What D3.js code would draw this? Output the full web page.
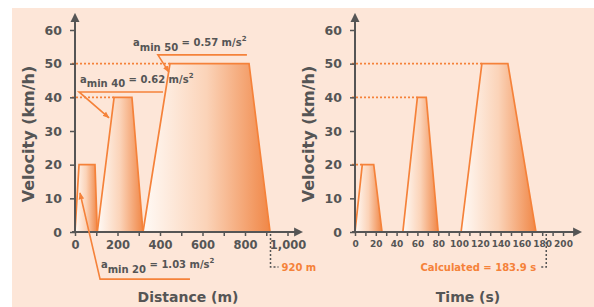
<!DOCTYPE html>
<html>
<head>
<meta charset="utf-8">
<script src="https://cdn.jsdelivr.net/npm/d3@7"></script>
<style>
  body { margin: 0; background: #fff; }
  svg { display: block; font-family: "DejaVu Sans", Verdana, sans-serif; font-weight: bold; }
</style>
</head>
<body>
<svg id="chart" width="594" height="307"></svg>
<script>
// Velocity profile against distance (m, km/h)
const distProfile = [
  [[0, 0], [19, 20], [94, 20], [105, 0]],
  [[105, 0], [184, 40], [268, 40], [320, 0]],
  [[320, 0], [447, 50], [819, 50], [918, 0]]
];
// Velocity profile against time (s, km/h)
const timeProfile = [
  [[0, 0], [7, 20], [18, 20], [26, 0]],
  [[46, 0], [60, 40], [68.5, 40], [80, 0]],
  [[102, 0], [122, 50], [147, 50], [174, 0]]
];
const yTicks = [0, 10, 20, 30, 40, 50, 60];
const distTicks = [0, 200, 400, 600, 800, 1000];
const distMinor = [100, 300, 500, 700, 900];
const timeTicks = [0, 20, 40, 60, 80, 100, 120, 140, 160, 180, 200];
const timeMinor = [10, 30, 50, 70, 90, 110, 130, 150, 170, 190];
const distGuides = [[40, 184], [50, 447]];
const timeGuides = [[20, 7], [40, 60], [50, 122]];
// annotations: label, value, text anchor, underline y, underline x range, arrow tip (data units)
const accelNotes = [
  { speed: '50', acc: '0.57', tx: 273, ty: 55.2, ly: 52.6, lx: [390, 809], tip: [442, 47.5] },
  { speed: '40', acc: '0.62', tx: 23.5, ty: 44.3, ly: 41.6, lx: [19, 414], tip: [160, 33.9] },
  { speed: '20', acc: '1.03', tx: 122, ty: -10.7, ly: -14, lx: [118, 541], tip: [23.5, 11.6] }
];
const totalDist = 920;
const totalTime = 183.9;

const ORANGE = '#f5823a';
const GREY = '#555555';

const svg = d3.select('#chart');
const defs = svg.append('defs');

const grad = defs.append('linearGradient').attr('id', 'fade')
  .attr('x1', 0).attr('x2', 1).attr('y1', 0).attr('y2', 0);
grad.append('stop').attr('offset', 0).attr('stop-color', '#fffaf6');
grad.append('stop').attr('offset', 0.5).attr('stop-color', '#fbd3b8');
grad.append('stop').attr('offset', 1).attr('stop-color', '#f08747');

defs.append('marker').attr('id', 'axhead').attr('viewBox', '0 0 10 10')
  .attr('refX', 1).attr('refY', 5).attr('markerWidth', 9).attr('markerHeight', 9.5)
  .attr('markerUnits', 'userSpaceOnUse').attr('orient', 'auto')
  .append('path').attr('d', 'M0,0L10,5L0,10Z').attr('fill', GREY);

defs.append('marker').attr('id', 'tip').attr('viewBox', '0 0 10 10')
  .attr('refX', 9).attr('refY', 5).attr('markerWidth', 7).attr('markerHeight', 7)
  .attr('markerUnits', 'userSpaceOnUse').attr('orient', 'auto')
  .append('path').attr('d', 'M0,1L10,5L0,9Z').attr('fill', ORANGE);

// background panel
svg.append('rect').attr('x', 12).attr('y', 8).attr('width', 582).attr('height', 299)
  .attr('fill', '#fde6d8');

const y = d3.scaleLinear().domain([0, 60]).range([232, 30]);

function drawPanel(opts) {
  const x = opts.x;
  const g = svg.append('g');
  const x0 = x(0);

  // guides
  opts.guides.forEach(([v, end]) => {
    g.append('line')
      .attr('x1', x0 - 3).attr('x2', x(end)).attr('y1', y(v)).attr('y2', y(v))
      .attr('stroke', ORANGE).attr('stroke-width', 1.8).attr('stroke-dasharray', '2,2');
  });

  // trapezoids
  const line = d3.line().x((d) => x(d[0])).y((d) => y(d[1]));
  opts.profile.forEach((p) => {
    g.append('path').attr('d', line(p) + 'Z')
      .attr('fill', 'url(#fade)').attr('stroke', 'none');
    g.append('path').attr('d', line(p))
      .attr('fill', 'none').attr('stroke', ORANGE).attr('stroke-width', 1.7)
      .attr('stroke-linejoin', 'miter');
  });

  // axes
  const yAxis = g.append('g').attr('transform', `translate(${x0},0)`)
    .call(d3.axisLeft(y).tickValues(yTicks).tickSize(5).tickPadding(8));
  yAxis.select('.domain').remove();
  yAxis.selectAll('line').attr('stroke', GREY).attr('stroke-width', 1.5);
  yAxis.selectAll('text').attr('fill', GREY).attr('font-size', 12.5)
    .attr('font-family', 'DejaVu Sans').attr('font-weight', 'bold');

  const xAxis = g.append('g').attr('transform', `translate(0,${y(0)})`)
    .call(d3.axisBottom(x).tickValues(opts.ticks).tickSize(4).tickPadding(5)
      .tickFormat(opts.format));
  xAxis.select('.domain').remove();
  xAxis.selectAll('line').attr('stroke', GREY).attr('stroke-width', 1.5);
  xAxis.selectAll('text').attr('fill', GREY).attr('font-size', opts.tickFont)
    .attr('font-family', 'DejaVu Sans').attr('font-weight', 'bold');

  const xMinor = g.append('g').attr('transform', `translate(0,${y(0)})`)
    .call(d3.axisBottom(x).tickValues(opts.minor).tickSize(4).tickFormat(''));
  xMinor.select('.domain').remove();
  xMinor.selectAll('line').attr('stroke', GREY).attr('stroke-width', 1.5);

  g.append('line').attr('x1', x0).attr('x2', x0).attr('y1', y(0) + 1).attr('y2', 21)
    .attr('stroke', GREY).attr('stroke-width', 2).attr('marker-end', 'url(#axhead)');
  g.append('line').attr('x1', x0 - 3).attr('x2', opts.axisEnd).attr('y1', y(0)).attr('y2', y(0))
    .attr('stroke', GREY).attr('stroke-width', 2).attr('marker-end', 'url(#axhead)');

  // axis titles
  g.append('text').attr('x', opts.titleX).attr('y', 302).attr('text-anchor', 'middle')
    .attr('font-size', 14).attr('fill', GREY).text(opts.title);
  g.append('text').attr('transform', `translate(${x0 - 41},134) rotate(-90)`)
    .attr('text-anchor', 'middle').attr('font-size', 16).attr('fill', GREY)
    .text('Velocity (km/h)');

  // total marker
  const mx = x(opts.total);
  g.append('path')
    .attr('d', `M${mx},${y(0) + 2}V267H${mx + opts.hook}`)
    .attr('fill', 'none').attr('stroke', GREY).attr('stroke-width', 1.5)
    .attr('stroke-dasharray', '2,2');
  g.append('text').attr('x', mx + opts.hook + (opts.hook > 0 ? 3 : -4)).attr('y', 271)
    .attr('text-anchor', opts.hook > 0 ? 'start' : 'end')
    .attr('font-size', 10).attr('fill', ORANGE).text(opts.totalLabel);

  return g;
}

const xd = d3.scaleLinear().domain([0, 1000]).range([75, 287.5]);
const left = drawPanel({
  x: xd, profile: distProfile, guides: distGuides, ticks: distTicks, minor: distMinor,
  format: d3.format(','), tickFont: 11.5, axisEnd: 295, title: 'Distance (m)', titleX: 188,
  total: totalDist, hook: 8, totalLabel: totalDist + ' m'
});

const xt = d3.scaleLinear().domain([0, 200]).range([355, 563]);
drawPanel({
  x: xt, profile: timeProfile, guides: timeGuides, ticks: timeTicks, minor: timeMinor,
  format: d3.format('d'), tickFont: 9, axisEnd: 574, title: 'Time (s)', titleX: 468,
  total: totalTime, hook: -6, totalLabel: 'Calculated = ' + totalTime + ' s'
});

// acceleration annotations
accelNotes.forEach((n) => {
  left.append('path')
    .attr('d', `M${xd(n.lx[1])},${y(n.ly)}H${xd(n.lx[0])}L${xd(n.tip[0])},${y(n.tip[1])}`)
    .attr('fill', 'none').attr('stroke', ORANGE).attr('stroke-width', 1.6)
    .attr('marker-end', 'url(#tip)');
  const t = left.append('text').attr('x', xd(n.tx)).attr('y', y(n.ty))
    .attr('font-size', 10).attr('fill', GREY);
  t.append('tspan').text('a');
  t.append('tspan').attr('dy', 4.5).text('min ' + n.speed);
  t.append('tspan').attr('dy', -4.5).text(' = ' + n.acc + ' m/s');
  t.append('tspan').attr('dy', -5).attr('font-size', 7).text('2');
});
</script>
</body>
</html>
